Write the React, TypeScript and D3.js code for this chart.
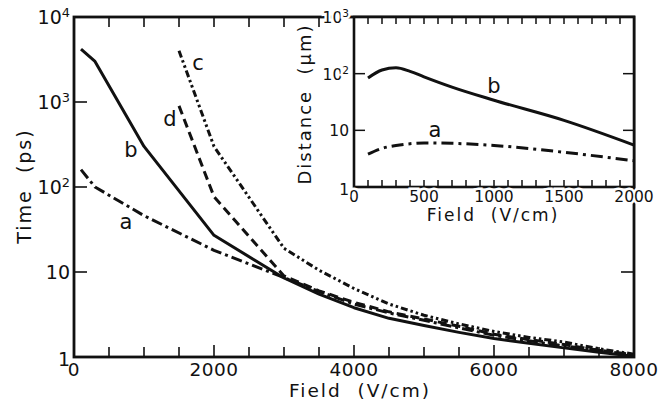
import React, { useEffect, useRef } from "react";
import * as d3 from "d3";

// Main plot: time vs field for four cases (log y)
const fieldAB = [100, 300, 1000, 2000, 3000, 3500, 4000, 4500, 5000, 5500, 6000, 6500, 7000, 7500, 8000];
const timeA = [160, 100, 46, 18, 8.6, 5.9, 4.2, 3.3, 2.7, 2.2, 1.8, 1.55, 1.35, 1.2, 1.05];
const timeB = [4200, 3000, 300, 27, 8.5, 5.5, 3.8, 2.85, 2.35, 1.95, 1.65, 1.45, 1.28, 1.14, 1.02];
const fieldCD = [1500, 2000, 3000, 3500, 4000, 4500, 5000, 5500, 6000, 6500, 7000, 7500, 8000];
const timeC = [4000, 300, 19, 10.5, 6.4, 4.2, 3.1, 2.45, 2.0, 1.7, 1.5, 1.25, 1.08];
const timeD = [900, 77, 9, 6.0, 4.4, 3.4, 2.8, 2.3, 1.85, 1.6, 1.4, 1.2, 1.06];

// Inset: distance vs field
const insetField = [100, 200, 300, 400, 500, 700, 1000, 1500, 2000];
const distA = [3.8, 4.8, 5.4, 5.8, 6.0, 5.9, 5.4, 4.1, 2.9];
const distB = [84, 116, 127, 110, 88, 58, 34, 15, 5.5];

const mainXTicks = [0, 2000, 4000, 6000, 8000];
const mainYTicks = [1, 10, 100, 1000, 10000];
const insetXTicks = [0, 500, 1000, 1500, 2000];
const insetYTicks = [1, 10, 100, 1000];

const FONT = "'DejaVu Sans', sans-serif";

export default function App() {
  const ref = useRef<SVGSVGElement>(null);

  useEffect(() => {
    const svg = d3.select(ref.current);
    svg.selectAll("*").remove();

    const x = d3.scaleLinear().domain([0, 8000]).range([74, 634]);
    const y = d3.scaleLog().domain([1, 10000]).range([357, 17]);
    const ix = d3.scaleLinear().domain([0, 2000]).range([354, 634]);
    const iy = d3.scaleLog().domain([1, 1000]).range([187, 17]);

    const ink = "#111";

    // log label "10^n" with superscript
    const logLabel = (g: any, v: number, fs: number) => {
      const p = Math.round(Math.log10(v));
      if (p <= 1) {
        g.text(String(v));
      } else {
        g.append("tspan").text("10");
        g.append("tspan").attr("font-size", fs * 0.68).attr("dy", -fs * 0.38).text(String(p));
      }
    };

    // ---- main frame
    svg
      .append("rect")
      .attr("x", x(0))
      .attr("y", y(10000))
      .attr("width", x(8000) - x(0))
      .attr("height", y(1) - y(10000))
      .attr("fill", "none")
      .attr("stroke", ink)
      .attr("stroke-width", 2.8);

    const minor = d3.range(500, 8000, 500);
    svg
      .selectAll(".bt")
      .data(minor)
      .join("line")
      .attr("x1", (d) => x(d))
      .attr("x2", (d) => x(d))
      .attr("y1", y(1))
      .attr("y2", (d) => y(1) - (d % 2000 === 0 ? 12 : 10))
      .attr("stroke", ink)
      .attr("stroke-width", 1.6);
    svg
      .selectAll(".tt")
      .data(minor.filter((d) => d < 4000))
      .join("line")
      .attr("x1", (d) => x(d))
      .attr("x2", (d) => x(d))
      .attr("y1", y(10000))
      .attr("y2", y(10000) + 10)
      .attr("stroke", ink)
      .attr("stroke-width", 1.6);
    svg
      .selectAll(".lt")
      .data([10, 100, 1000])
      .join("line")
      .attr("x1", x(0))
      .attr("x2", x(0) + 13)
      .attr("y1", (d) => y(d))
      .attr("y2", (d) => y(d))
      .attr("stroke", ink)
      .attr("stroke-width", 1.6);
    svg
      .append("line")
      .attr("x1", x(8000))
      .attr("x2", x(8000) - 13)
      .attr("y1", y(10))
      .attr("y2", y(10))
      .attr("stroke", ink)
      .attr("stroke-width", 1.6);

    svg
      .selectAll(".xl")
      .data(mainXTicks)
      .join("text")
      .attr("x", (d) => x(d))
      .attr("y", 376)
      .attr("text-anchor", "middle")
      .attr("font-size", 18.5)
      .attr("letter-spacing", 0.5)
      .attr("fill", ink)
      .text((d) => String(d));

    mainYTicks.forEach((v) => {
      const t = svg
        .append("text")
        .attr("x", 70)
        .attr("y", y(v) + 7 + (v === 1 ? 2 : 0))
        .attr("text-anchor", "end")
        .attr("font-size", 19)
        .attr("fill", ink);
      logLabel(t, v, 19);
    });

    svg
      .append("text")
      .attr("x", 360)
      .attr("y", 397)
      .attr("text-anchor", "middle")
      .attr("font-size", 18.5)
      .attr("letter-spacing", 2)
      .attr("fill", ink)
      .attr("xml:space", "preserve")
      .text("Field  (V/cm)");
    svg
      .append("text")
      .attr("transform", "translate(31,186) rotate(-90)")
      .attr("text-anchor", "middle")
      .attr("font-size", 19)
      .attr("letter-spacing", 2)
      .attr("fill", ink)
      .attr("xml:space", "preserve")
      .text("Time  (ps)");

    // ---- main curves (straight segments, kinks as in the original)
    const mainLine = (xs: number[], ys: number[]) =>
      d3
        .line<number>()
        .x((d, i) => x(xs[i]))
        .y((d) => y(d))(ys);

    const curves = [
      { xs: fieldAB, ys: timeA, dash: "11,4,3,4" },
      { xs: fieldAB, ys: timeB, dash: null },
      { xs: fieldCD, ys: timeC, dash: "7,3,2.5,3,2.5,3" },
      { xs: fieldCD, ys: timeD, dash: "9,5" },
    ];
    curves.forEach((c) => {
      svg
        .append("path")
        .attr("d", mainLine(c.xs, c.ys))
        .attr("fill", "none")
        .attr("stroke", ink)
        .attr("stroke-width", 3)
        .attr("stroke-linejoin", "round")
        .attr("stroke-dasharray", c.dash);
    });

    const curveLabels = [
      { t: "a", x: 126, y: 229 },
      { t: "b", x: 131, y: 157 },
      { t: "c", x: 198, y: 70 },
      { t: "d", x: 170, y: 126 },
    ];
    svg
      .selectAll(".cl")
      .data(curveLabels)
      .join("text")
      .attr("x", (d) => d.x)
      .attr("y", (d) => d.y)
      .attr("text-anchor", "middle")
      .attr("font-size", 21)
      .attr("fill", ink)
      .text((d) => d.t);

    // ---- inset
    const inset = svg.append("g");
    inset
      .append("rect")
      .attr("x", ix(0))
      .attr("y", iy(1000))
      .attr("width", ix(2000) - ix(0))
      .attr("height", iy(1) - iy(1000))
      .attr("fill", "#fff")
      .attr("stroke", ink)
      .attr("stroke-width", 2.6);

    const iminor = d3.range(100, 2000, 100);
    inset
      .selectAll(".ib")
      .data(iminor)
      .join("line")
      .attr("x1", (d) => ix(d))
      .attr("x2", (d) => ix(d))
      .attr("y1", iy(1))
      .attr("y2", iy(1) - 7)
      .attr("stroke", ink)
      .attr("stroke-width", 1.5);
    inset
      .selectAll(".it")
      .data(iminor)
      .join("line")
      .attr("x1", (d) => ix(d))
      .attr("x2", (d) => ix(d))
      .attr("y1", iy(1000))
      .attr("y2", iy(1000) + 7)
      .attr("stroke", ink)
      .attr("stroke-width", 1.5);
    [10, 100].forEach((v) => {
      inset
        .append("line")
        .attr("x1", ix(0))
        .attr("x2", ix(0) + 11)
        .attr("y1", iy(v))
        .attr("y2", iy(v))
        .attr("stroke", ink)
        .attr("stroke-width", 1.5);
      inset
        .append("line")
        .attr("x1", ix(2000))
        .attr("x2", ix(2000) - 11)
        .attr("y1", iy(v))
        .attr("y2", iy(v))
        .attr("stroke", ink)
        .attr("stroke-width", 1.5);
    });

    const halo = (t: any) =>
      t.attr("stroke", "#fff").attr("stroke-width", 5).attr("paint-order", "stroke");

    inset
      .selectAll(".ixl")
      .data(insetXTicks)
      .join("text")
      .attr("x", (d) => ix(d))
      .attr("y", 202)
      .attr("text-anchor", "middle")
      .attr("font-size", 15.5)
      .attr("fill", ink)
      .call(halo)
      .text((d) => String(d));

    insetYTicks.forEach((v) => {
      const t = inset
        .append("text")
        .attr("x", 349)
        .attr("y", iy(v) + 6 + (v === 1 ? 2 : 0))
        .attr("text-anchor", "end")
        .attr("font-size", 15.5)
        .attr("fill", ink);
      halo(t);
      logLabel(t, v, 15.5);
    });

    inset
      .append("text")
      .attr("x", 493)
      .attr("y", 221)
      .attr("text-anchor", "middle")
      .attr("font-size", 17)
      .attr("letter-spacing", 2)
      .attr("fill", ink)
      .attr("xml:space", "preserve")
      .call(halo)
      .text("Field  (V/cm)");
    inset
      .append("text")
      .attr("transform", "translate(311,104) rotate(-90)")
      .attr("text-anchor", "middle")
      .attr("font-size", 18)
      .attr("letter-spacing", 2)
      .attr("fill", ink)
      .attr("xml:space", "preserve")
      .text("Distance  (\u03bcm)");

    const insetLine = (ys: number[]) =>
      d3
        .line<number>()
        .x((d, i) => ix(insetField[i]))
        .y((d) => iy(d))
        .curve(d3.curveMonotoneX)(ys);

    inset
      .append("path")
      .attr("d", insetLine(distB))
      .attr("fill", "none")
      .attr("stroke", ink)
      .attr("stroke-width", 3);
    inset
      .append("path")
      .attr("d", insetLine(distA))
      .attr("fill", "none")
      .attr("stroke", ink)
      .attr("stroke-width", 3)
      .attr("stroke-dasharray", "12,5,3,5");

    inset
      .append("text")
      .attr("x", 494)
      .attr("y", 93)
      .attr("text-anchor", "middle")
      .attr("font-size", 21)
      .attr("fill", ink)
      .text("b");
    inset
      .append("text")
      .attr("x", 435)
      .attr("y", 137)
      .attr("text-anchor", "middle")
      .attr("font-size", 21)
      .attr("fill", ink)
      .text("a");
  }, []);

  return (
    <svg
      ref={ref}
      width={663}
      height={403}
      style={{ position: "absolute", left: 0, top: 0, background: "#fff", fontFamily: FONT }}
    />
  );
}
